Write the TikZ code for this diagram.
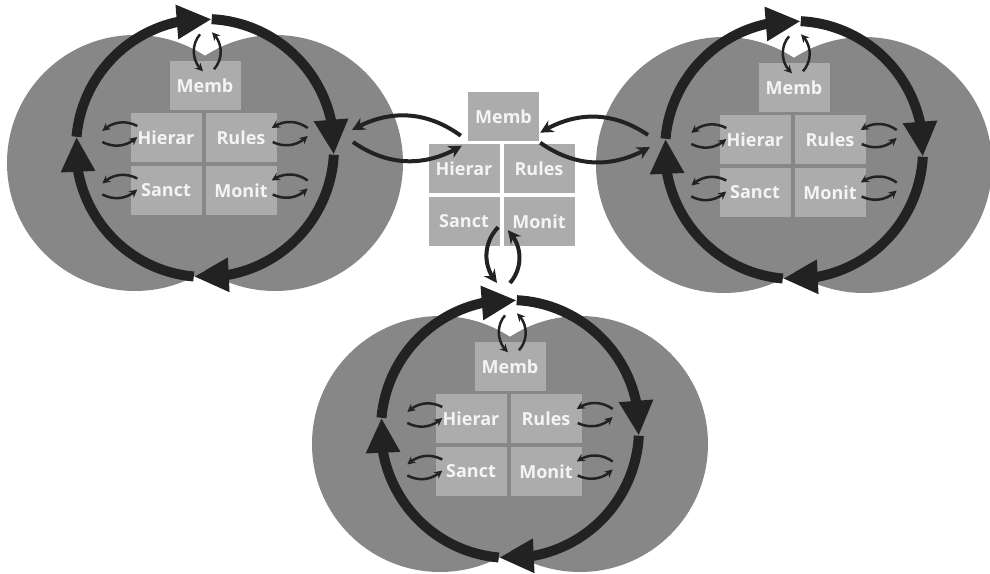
\documentclass[tikz,border=0pt]{standalone}
\usepackage{fontspec}
\setmainfont{Open Sans}
\usepackage{tikz}
\usetikzlibrary{arrows.meta,% Triangle and Stealth tips
bending}%                     tips that follow the arcs
\definecolor{blobgray}{RGB}{135,135,135}
\definecolor{boxgray}{RGB}{172,172,172}
\definecolor{boxtext}{RGB}{244,244,244}
\definecolor{ringblack}{RGB}{34,34,34}
\tikzset{every node/.style={font=\fontsize{18}{20}\selectfont\bfseries},
  blob/.style={fill=blobgray},
  ringnode/.style={circle, minimum size=258pt, inner sep=0pt, outer sep=0pt},
  ringarc/.style={draw=ringblack, line width=10pt, -{Triangle[length=35pt,width=32pt]}},
  box/.style={fill=boxgray, text=boxtext, minimum width=71pt, minimum height=49pt, inner sep=0pt},
  loop/.style={draw=ringblack, line width=2.5pt, -{Stealth[length=8pt,width=8pt]}},
  link/.style={draw=ringblack, line width=4pt, -{Stealth[length=13pt,width=13pt]}}}

\begin{document}
\begin{tikzpicture}[x=1pt, y=1pt]
  \useasboundingbox (0,0) rectangle (990,573);
  % the three groups
  \foreach \n/\cx/\cy in {tl/205/425, tr/794/423, bt/510/144}{
    \begin{scope}[shift={(\cx,\cy)}]
      \fill[blob] (-70,-15) circle[radius=128];
      \fill[blob] (70,-15) circle[radius=128];
      \node[ringnode] (\n-ring) at (0,0) {};
      \foreach \a/\b in {175/87, 87/-3, 357/265, 265/175}
        \draw[ringarc] (\n-ring.\a) arc[start angle=\a, end angle=\b, radius=129];
      \node[box] (\n-memb) at (0,62) {Memb};
      \node[box] (\n-hierar) at (-39,10) {Hierar};
      \node[box] (\n-rules) at (36,10) {Rules};
      \node[box] (\n-sanct) at (-39,-42.5) {Sanct};
      \node[box] (\n-monit) at (36,-42.5) {Monit};
      \draw[loop] ([shift={(-5,27)}]\n-memb.north) to[bend right=45] ([shift={(-2,-10)}]\n-memb.north);
      \draw[loop] ([shift={(9,-8)}]\n-memb.north) to[bend right=45] ([shift={(7,29)}]\n-memb.north);
      \foreach \b in {hierar, sanct}{
        \draw[loop] ([shift={(7,12)}]\n-\b.west) to[bend right=35] ([shift={(-28,7)}]\n-\b.west);
        \draw[loop] ([shift={(-28,-4)}]\n-\b.west) to[bend right=35] ([shift={(7,1)}]\n-\b.west);
      }
      \foreach \b in {rules, monit}{
        \draw[loop] ([shift={(31,10)}]\n-\b.east) to[bend right=35] ([shift={(-5,10)}]\n-\b.east);
        \draw[loop] ([shift={(-4,-4)}]\n-\b.east) to[bend right=35] ([shift={(31,2)}]\n-\b.east);
      }
    \end{scope}
  }
  % the shared group in the middle
  \node[box] (cn-memb) at (503.5,456) {Memb};
  \node[box] (cn-hierar) at (464,404.5) {Hierar};
  \node[box] (cn-rules) at (539,404.5) {Rules};
  \node[box] (cn-sanct) at (464,351.5) {Sanct};
  \node[box] (cn-monit) at (539,351.5) {Monit};
  \draw[link] ([shift={(-7,6)}]cn-memb.south west) to[bend right=33] ([shift={(18,18)}]tl-ring.east);
  \draw[link] ([shift={(19,6)}]tl-ring.east) to[bend right=33] ([shift={(-6,-4)}]cn-memb.south west);
  \draw[link] ([shift={(-17,15)}]tr-ring.west) to[bend right=33] ([shift={(1,9)}]cn-memb.south east);
  \draw[link] ([shift={(1,-1)}]cn-memb.south east) to[bend right=33] ([shift={(-15,3)}]tr-ring.west);
  \draw[link] ([shift={(-1.5,19)}]cn-sanct.south east) to[bend right=43] ([shift={(-13,17)}]bt-ring.north);
  \draw[link] ([shift={(0,17)}]bt-ring.north) to[bend right=43] ([shift={(4.5,16)}]cn-monit.south west);
\end{tikzpicture}
\end{document}
